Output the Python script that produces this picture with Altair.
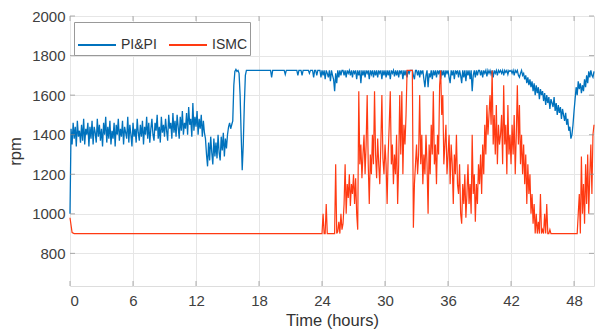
import altair as alt
import pandas as pd

STEP = 0.1  # hours between samples

# PI&PI speed (rpm), one value every 0.1 h from t = 0 (one row per hour)
blue_rpm = [
    1000, 1430, 1350, 1460, 1380, 1440, 1340, 1470, 1390, 1420,  # 0
    1360, 1450, 1370, 1480, 1350, 1430, 1400, 1460, 1340, 1440,  # 1
    1380, 1470, 1350, 1440, 1410, 1360, 1480, 1390, 1450, 1370,  # 2
    1430, 1340, 1460, 1400, 1490, 1360, 1440, 1380, 1470, 1350,  # 3
    1420, 1380, 1460, 1340, 1450, 1400, 1480, 1370, 1430, 1390,  # 4
    1470, 1350, 1440, 1410, 1380, 1490, 1360, 1450, 1400, 1340,  # 5
    1460, 1390, 1430, 1360, 1480, 1410, 1370, 1450, 1390, 1470,  # 6
    1350, 1440, 1400, 1490, 1380, 1460, 1360, 1430, 1480, 1400,  # 7
    1370, 1460, 1420, 1500, 1380, 1440, 1360, 1490, 1410, 1450,  # 8
    1390, 1480, 1420, 1370, 1500, 1430, 1460, 1380, 1510, 1410,  # 9
    1470, 1390, 1500, 1440, 1380, 1490, 1420, 1520, 1400, 1460,  # 10
    1430, 1510, 1400, 1540, 1450, 1480, 1390, 1560, 1420, 1490,  # 11
    1440, 1520, 1400, 1480, 1430, 1500, 1390, 1470, 1410, 1380,  # 12
    1300, 1240, 1360, 1270, 1390, 1310, 1250, 1380, 1290, 1360,  # 13
    1280, 1400, 1310, 1270, 1390, 1320, 1410, 1290, 1380, 1330,  # 14
    1400, 1440, 1460, 1430, 1450, 1470, 1650, 1720, 1730, 1720,  # 15
    1725, 1710, 1600, 1400, 1220, 1350, 1550, 1700, 1725, 1725,  # 16
    1725, 1725, 1725, 1725, 1725, 1725, 1725, 1725, 1725, 1725,  # 17
    1725, 1725, 1725, 1725, 1725, 1725, 1725, 1725, 1725, 1725,  # 18
    1725, 1725, 1690, 1725, 1725, 1725, 1725, 1725, 1725, 1725,  # 19
    1725, 1725, 1725, 1725, 1725, 1705, 1725, 1725, 1725, 1725,  # 20
    1725, 1725, 1725, 1725, 1725, 1725, 1725, 1700, 1725, 1725,  # 21
    1725, 1700, 1725, 1725, 1725, 1725, 1725, 1725, 1710, 1725,  # 22
    1725, 1725, 1690, 1725, 1725, 1700, 1725, 1725, 1725, 1690,  # 23
    1725, 1700, 1725, 1680, 1725, 1710, 1690, 1725, 1670, 1725,  # 24
    1700, 1680, 1620, 1710, 1660, 1725, 1690, 1725, 1700, 1725,  # 25
    1725, 1700, 1725, 1690, 1725, 1710, 1725, 1700, 1725, 1690,  # 26
    1725, 1710, 1725, 1680, 1725, 1700, 1725, 1660, 1725, 1700,  # 27
    1725, 1690, 1725, 1710, 1725, 1680, 1725, 1705, 1725, 1690,  # 28
    1725, 1700, 1725, 1690, 1725, 1710, 1725, 1680, 1725, 1700,  # 29
    1725, 1690, 1725, 1700, 1725, 1680, 1725, 1710, 1725, 1695,  # 30
    1725, 1700, 1725, 1690, 1725, 1710, 1725, 1680, 1725, 1700,  # 31
    1725, 1690, 1725, 1710, 1725, 1725, 1725, 1700, 1680, 1725,  # 32
    1725, 1700, 1725, 1690, 1725, 1710, 1725, 1680, 1640, 1700,  # 33
    1725, 1640, 1710, 1690, 1725, 1680, 1725, 1700, 1725, 1690,  # 34
    1725, 1710, 1725, 1680, 1725, 1700, 1725, 1690, 1725, 1710,  # 35
    1725, 1690, 1660, 1725, 1700, 1725, 1680, 1725, 1710, 1725,  # 36
    1690, 1725, 1700, 1660, 1725, 1690, 1725, 1670, 1725, 1700,  # 37
    1725, 1680, 1725, 1620, 1700, 1725, 1690, 1725, 1700, 1725,  # 38
    1725, 1700, 1725, 1690, 1725, 1710, 1725, 1695, 1725, 1710,  # 39
    1725, 1705, 1725, 1690, 1725, 1710, 1725, 1700, 1725, 1715,  # 40
    1725, 1710, 1725, 1700, 1725, 1715, 1725, 1705, 1725, 1720,  # 41
    1725, 1710, 1725, 1700, 1725, 1715, 1725, 1700, 1690, 1710,  # 42
    1725, 1700, 1710, 1680, 1700, 1660, 1690, 1650, 1680, 1640,  # 43
    1670, 1620, 1660, 1600, 1650, 1610, 1640, 1580, 1630, 1600,  # 44
    1620, 1570, 1610, 1550, 1600, 1560, 1590, 1530, 1580, 1560,  # 45
    1540, 1590, 1520, 1560, 1500, 1550, 1510, 1540, 1480, 1530,  # 46
    1500, 1470, 1510, 1450, 1480, 1420, 1440, 1380, 1400, 1450,  # 47
    1520, 1580, 1640, 1600, 1670, 1630, 1660, 1610, 1650, 1620,  # 48
    1680, 1640, 1700, 1660, 1720, 1690, 1725, 1700, 1690, 1720,  # 49
]

# ISMC speed: start-up and flat stretch (explicit hours)
red_start_hours = [0.0, 0.2, 0.4, 23.9]
red_start_rpm = [980, 905, 900, 900]
# ISMC speed from t = 24.0 h, one value every 0.1 h (one row per hour)
red_rpm_from24 = [
    900, 1000, 900, 900, 1050, 900, 900, 900, 900, 900,        # 24
    900, 900, 900, 1250, 900, 910, 960, 900, 1000, 920,        # 25
    950, 1050, 1250, 1000, 1150, 1080, 1200, 1040, 1150, 1100, # 26
    1200, 1050, 1180, 1000, 920, 1620, 1250, 1350, 1180, 1300, # 27
    1400, 1200, 1350, 1600, 1250, 1050, 1300, 1200, 1400, 1250,# 28
    1620, 1300, 1180, 1380, 1250, 1150, 1350, 1600, 1280, 1200,# 29
    1350, 1250, 1050, 1300, 1450, 1620, 1250, 1350, 1150, 1300,# 30
    1200, 1400, 1050, 1250, 1600, 1300, 1620, 1200, 1450, 1350,# 31
    1500, 1725, 1725, 1725, 1725, 1725, 1725, 930, 1150, 1250, # 32
    1350, 1200, 1300, 1600, 1250, 1400, 1150, 1300, 1200, 1400,# 33
    1250, 1000, 1350, 1200, 1450, 1300, 1620, 1250, 1350, 1150,# 34
    1400, 1300, 1650, 1725, 1500, 1600, 1250, 1350, 1450, 1200,# 35
    1300, 1400, 1150, 1350, 1250, 1050, 1300, 1200, 1400, 1150,# 36
    1100, 1250, 1000, 950, 1150, 1050, 1200, 980, 1100, 1250,  # 37
    1050, 1150, 1000, 1400, 1100, 1200, 960, 1150, 1050, 1250, # 38
    1150, 1300, 1100, 1350, 1200, 1450, 1300, 1550, 1400, 1500,# 39
    1600, 1450, 1725, 1350, 1500, 1300, 1550, 1250, 1450, 1350,# 40
    1400, 1500, 1250, 1650, 1350, 1450, 1200, 1550, 1300, 1400,# 41
    1250, 1450, 1300, 1500, 1200, 1400, 1650, 1350, 1550, 1250,# 42
    1400, 1200, 1350, 1150, 1300, 1050, 1250, 1100, 1200, 1000,# 43
    1100, 950, 1050, 900, 1000, 900, 960, 900, 1100, 900,      # 44
    920, 900, 1000, 900, 1050, 900, 900, 920, 900, 900,        # 45
    900, 900, 900, 900, 900, 900, 900, 900, 900, 900,          # 46
    900, 900, 900, 900, 900, 900, 900, 900, 900, 900,          # 47
    900, 900, 900, 900, 1000, 1100, 900, 1290, 1000, 1150,     # 48
    950, 1250, 1050, 1300, 1000, 1200, 1350, 1100, 1400, 1450, # 49
]

x_ticks = [0, 6, 12, 18, 24, 30, 36, 42, 48]
y_ticks = [800, 1000, 1200, 1400, 1600, 1800, 2000]
series_names = ["PI&PI", "ISMC"]
series_colors = ["#0072BD", "#FF3A12"]

blue_df = pd.DataFrame({
    "t": [round(i * STEP, 2) for i in range(len(blue_rpm))],
    "rpm": blue_rpm,
    "series": "PI&PI",
})
red_hours = red_start_hours + [round(24.0 + i * STEP, 2) for i in range(len(red_rpm_from24))]
red_df = pd.DataFrame({
    "t": red_hours,
    "rpm": red_start_rpm + red_rpm_from24,
    "series": "ISMC",
})

W, H = 524, 270
xs = alt.Scale(domain=[0, 49.9], nice=False, zero=False)
ys = alt.Scale(domain=[635, 2000], nice=False, zero=False)
color = alt.Color(
    "series:N",
    scale=alt.Scale(domain=series_names, range=series_colors),
    legend=alt.Legend(
        title=None, orient="none", legendX=4, legendY=6, direction="horizontal",
        symbolType="stroke", symbolSize=1444, symbolStrokeWidth=2,
        labelFontSize=14, labelFont="Liberation Sans", labelColor="#333333",
        labelOffset=4, columnPadding=8, padding=3,
        fillColor="white", strokeColor="#999999",
    ),
)

xax = alt.Axis(values=x_ticks, title="Time (hours)", grid=True, gridColor="#e6e6e6",
               domain=False, ticks=False, labelPadding=7, titlePadding=4,
               labelFontSize=15, titleFontSize=16.5, labelColor="#404040",
               titleColor="#333333", labelFont="Liberation Sans",
               titleFont="Liberation Sans", titleFontWeight="normal")
yax = alt.Axis(values=y_ticks, format="d", title="rpm", grid=True, gridColor="#e6e6e6",
               domain=False, ticks=False, labelPadding=5, titlePadding=8,
               labelFontSize=15, titleFontSize=16.5, labelColor="#404040",
               titleColor="#333333", labelFont="Liberation Sans",
               titleFont="Liberation Sans", titleFontWeight="normal")

blue = alt.Chart(blue_df).mark_line(strokeWidth=1.3, interpolate="linear").encode(
    x=alt.X("t:Q", scale=xs, axis=xax),
    y=alt.Y("rpm:Q", scale=ys, axis=yax),
    color=color,
)
red = alt.Chart(red_df).mark_line(strokeWidth=1.2, interpolate="linear").encode(
    x=alt.X("t:Q", scale=xs),
    y=alt.Y("rpm:Q", scale=ys),
    color=color,
)

xt = pd.DataFrame({"t": x_ticks})
yt = pd.DataFrame({"rpm": y_ticks})
tick_style = dict(color="#8c8c8c", thickness=1)
xtick_b = alt.Chart(xt).mark_tick(orient="vertical", size=5, **tick_style).encode(
    x=alt.X("t:Q", scale=xs), y=alt.value(H - 2.5))
xtick_t = alt.Chart(xt).mark_tick(orient="vertical", size=5, **tick_style).encode(
    x=alt.X("t:Q", scale=xs), y=alt.value(2.5))
ytick_l = alt.Chart(yt).mark_tick(orient="horizontal", size=5, **tick_style).encode(
    y=alt.Y("rpm:Q", scale=ys), x=alt.value(2.5))
ytick_r = alt.Chart(yt).mark_tick(orient="horizontal", size=5, **tick_style).encode(
    y=alt.Y("rpm:Q", scale=ys), x=alt.value(W - 2.5))

chart = alt.layer(blue, red, xtick_b, xtick_t, ytick_l, ytick_r).properties(
    width=W, height=H,
    autosize=alt.AutoSizeParams(type="none"),
    padding={"left": 70, "top": 16, "right": 2, "bottom": 46},
).configure_view(stroke="#8c8c8c", strokeWidth=1).configure(background="white")

chart.save("out.html", embed_options={"renderer": "svg", "actions": False})
